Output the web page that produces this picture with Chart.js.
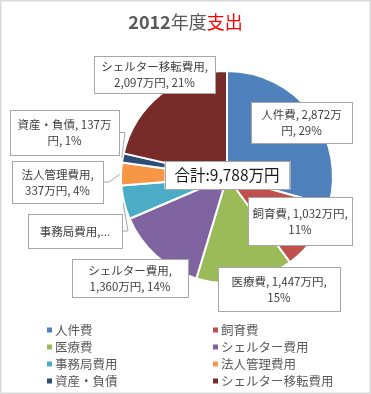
<!DOCTYPE html>
<html><head><meta charset="utf-8">
<script src="https://cdn.jsdelivr.net/npm/chart.js@4/dist/chart.umd.min.js"></script>
<style>html,body{margin:0;padding:0;background:#fff;overflow:hidden}</style>
</head><body>
<canvas id="c" width="371" height="394"></canvas>
<script>
// ---- data ----
const categories = ['人件費','飼育費','医療費','シェルター費用','事務局費用','法人管理費用','資産・負債','シェルター移転費用'];
const values = [2872, 1032, 1447, 1360, 506, 337, 137, 2097];       // 万円
const percentLabels = [29, 11, 15, 14, 5, 4, 1, 21];                 // % as printed
const colors = ['#4F81BD','#C0504D','#9BBB59','#8064A2','#4BACC6','#F79646','#2C4D75','#772C2A'];
const titleParts = [['2012','#595959','bold'],['年度','#595959','normal'],['支出','#FF0000','normal']];
const unit = '万円';
const totalLabel = '合計:';

// ---- label box layout (offset of box centre from pie centre, size, wrap width) ----
const labelLayout = [
  {dx: 74.5, dy: -54.5, w: 101, h: 41, wrap: 90},
  {dx: 73,   dy: 44,    w: 104, h: 48, wrap: 102},
  {dx: 52,   dy: 112,   w: 122, h: 44, wrap: 114},
  {dx: -97,  dy: 101,   w: 116, h: 38, wrap: 104},
  {dx: -152, dy: 54,    w: 94,  h: 34, wrap: 86, maxLines: 1, leader: true},
  {dx: -169.5, dy: 5,   w: 91,  h: 42, wrap: 84, leader: true},
  {dx: -162.5, dy: -44.5, w: 109, h: 45, wrap: 100, leader: true},
  {dx: -72.5, dy: -102.5, w: 121, h: 37, wrap: 114}
];

const LABEL_FONT = '11.5px "Noto Sans CJK JP", "Noto Sans", sans-serif';
const fmt = n => n.toLocaleString('en-US');
const total = values.reduce((a, b) => a + b, 0);

function isCJK(ch){ return /[\u3000-\u9fff\uff00-\uffef]/.test(ch); }
function wrapText(ctx, text, maxW){
  const lines = []; let line = '';
  for (let i = 0; i < text.length; i++){
    const ch = text[i];
    const test = line + ch;
    if (line.length && ctx.measureText(test.trimEnd()).width > maxW){
      let bp = -1;
      for (let j = line.length; j > 0; j--){
        const a = line[j-1], b = (j < line.length ? line[j] : ch);
        if (a === ' ' || ((isCJK(a) || isCJK(b)) && b !== ',' && b !== ' ')) { bp = j; break; }
      }
      if (bp <= 0) bp = line.length;
      lines.push(line.slice(0, bp).trimEnd());
      line = line.slice(bp).trimStart() + ch;
    } else line = test;
  }
  if (line.trim()) lines.push(line.trim());
  return lines;
}

const decor = {
  id: 'decor',
  afterDraw(chart){
    const ctx = chart.ctx;
    const meta = chart.getDatasetMeta(0);
    const arc0 = meta.data[0];
    const cx = arc0.x, cy = arc0.y, R = arc0.outerRadius;
    ctx.save();
    // outer frame
    ctx.strokeStyle = '#D9D9D9'; ctx.lineWidth = 1.5;
    ctx.strokeRect(0.75, 0.75, chart.width - 1.5, chart.height - 1.5);

    // title
    ctx.textBaseline = 'middle';
    let tw = 0;
    titleParts.forEach(p => { ctx.font = p[2] + ' 18px "Noto Sans CJK JP", sans-serif'; tw += ctx.measureText(p[0]).width; });
    let tx = chart.width / 2 - tw / 2;
    ctx.textAlign = 'left';
    titleParts.forEach(p => {
      ctx.font = p[2] + ' 18px "Noto Sans CJK JP", sans-serif';
      ctx.fillStyle = p[1]; ctx.fillText(p[0], tx, 22);
      tx += ctx.measureText(p[0]).width;
    });

    // data labels
    ctx.font = LABEL_FONT;
    meta.data.forEach((arc, i) => {
      const L = labelLayout[i];
      const bx = cx + L.dx - L.w / 2, by = cy + L.dy - L.h / 2;
      if (L.leader){
        const mid = (arc.startAngle + arc.endAngle) / 2;
        const px = cx + Math.cos(mid) * (R + 1), py = cy + Math.sin(mid) * (R + 1);
        const sx = bx + L.w, sy = by + L.h / 2;
        ctx.strokeStyle = '#A6A6A6'; ctx.lineWidth = 1;
        ctx.beginPath(); ctx.moveTo(sx, sy); ctx.lineTo(sx + 6, sy); ctx.lineTo(px, py); ctx.stroke();
      }
      ctx.fillStyle = '#FFFFFF';
      ctx.fillRect(bx, by, L.w, L.h);
      ctx.strokeStyle = '#A6A6A6'; ctx.lineWidth = 1;
      ctx.strokeRect(Math.round(bx) + 0.5, Math.round(by) + 0.5, Math.round(L.w), Math.round(L.h));
      const text = categories[i] + ', ' + fmt(values[i]) + unit + ', ' + percentLabels[i] + '%';
      let lines = wrapText(ctx, text, L.wrap);
      if (L.maxLines && lines.length > L.maxLines){
        lines = [text.split(' ')[0] + '...'];
      }
      ctx.fillStyle = '#404040'; ctx.textAlign = 'center'; ctx.textBaseline = 'middle';
      const lh = 16;
      const y0 = cy + L.dy - (lines.length - 1) * lh / 2 + 0.5;
      lines.forEach((ln, k) => ctx.fillText(ln, cx + L.dx, y0 + k * lh));
    });

    // total label in the centre
    ctx.font = '15.5px "Noto Sans CJK JP", sans-serif';
    const tot = totalLabel + fmt(total) + unit;
    const w = 125, h = 28;
    const bx = cx - w / 2, by = cy - 2 - h / 2;
    ctx.fillStyle = '#FFFFFF'; ctx.fillRect(bx, by, w, h);
    ctx.strokeStyle = '#A6A6A6'; ctx.strokeRect(Math.round(bx) + 0.5, Math.round(by) + 0.5, w, h);
    ctx.fillStyle = '#1A1A1A'; ctx.textAlign = 'center'; ctx.textBaseline = 'middle';
    ctx.fillText(tot, cx, cy - 1.5);

    // legend (two columns)
    ctx.font = '12.5px "Noto Sans CJK JP", sans-serif';
    ctx.textAlign = 'left';
    const colX = [47, 213], rowY0 = 330, rowStep = 17;
    categories.forEach((c, i) => {
      const x = colX[i % 2], y = rowY0 + Math.floor(i / 2) * rowStep;
      ctx.fillStyle = colors[i]; ctx.fillRect(x, y - 2.5, 5, 5);
      ctx.fillStyle = '#595959'; ctx.fillText(c, x + 8, y);
    });
    ctx.restore();
  }
};

new Chart(document.getElementById('c'), {
  type: 'pie',
  data: {
    labels: categories,
    datasets: [{ data: values, backgroundColor: colors, borderColor: '#FFFFFF', borderWidth: 2 }]
  },
  options: {
    responsive: false,
    animation: false,
    layout: { padding: { left: 120, right: 37, top: 70, bottom: 110 } },
    plugins: { legend: { display: false }, title: { display: false }, tooltip: { enabled: false } }
  },
  plugins: [decor]
});
</script>
</body></html>
